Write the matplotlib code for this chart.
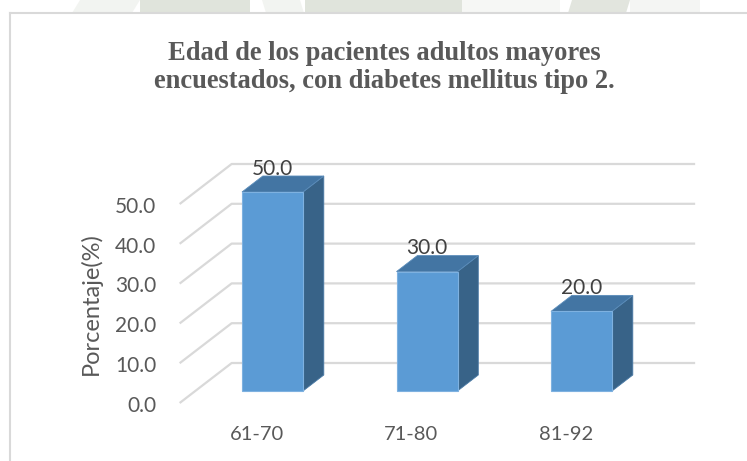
import matplotlib
matplotlib.use("Agg")
import matplotlib.pyplot as plt
from matplotlib.patches import Polygon
from matplotlib.lines import Line2D
from matplotlib.transforms import IdentityTransform

# ---- data ----
categories = ["61-70", "71-80", "81-92"]
values = [50.0, 30.0, 20.0]
y_ticks = [0, 10, 20, 30, 40, 50]
y_tick_labels = ["0.0", "10.0", "20.0", "30.0", "40.0", "50.0"]
title_lines = ["Edad de los pacientes adultos mayores",
               "encuestados, con diabetes mellitus tipo 2."]
y_label = "Porcentaje(%)"

W, H, DPI = 747, 461, 100
fig = plt.figure(figsize=(W / DPI, H / DPI), dpi=DPI)
fig.patch.set_facecolor("white")

# faint watermark strip above the chart frame (display pixels, y up)
wm = IdentityTransform()
def band(x0, x1, top_slant, col, alpha):
    pts = [(x0, H), (x1, H), (x1 + top_slant, H - 13), (x0 + top_slant, H - 13)]
    fig.add_artist(Polygon(pts, closed=True, transform=wm, facecolor=col,
                           edgecolor="none", alpha=alpha, zorder=0))
band(80, 140, -8, "#d7dcd2", 0.3)
band(140, 250, 0, "#d6dbd1", 0.75)
band(262, 300, 4, "#d6dbd1", 0.3)
band(305, 462, 0, "#d6dbd1", 0.75)
band(462, 560, 0, "#e4e7e1", 0.3)
band(572, 630, -4, "#d6dbd1", 0.7)
band(630, 700, 0, "#e2e5df", 0.35)

# chart frame
fig.add_artist(Line2D([10, W], [H - 13, H - 13], transform=wm,
                      color="#d9d9d9", lw=1.5, zorder=1))
fig.add_artist(Line2D([10, 10], [0, H - 13], transform=wm,
                      color="#d9d9d9", lw=1.5, zorder=1))
fig.add_artist(Polygon([(10.5, 0), (W, 0), (W, H - 13.5), (10.5, H - 13.5)],
                       closed=True, transform=wm, facecolor="white",
                       edgecolor="none", zorder=0.5))

ax = fig.add_axes([0, 0, 1, 1])
ax.set_axis_off()
ax.patch.set_alpha(0)
ax.set_zorder(2)

# axis scaling: category spacing and value scale in pixels
cat_px = 154.5
val_px = 3.98
front_c0_px = 256.9
front_v0_py = 403.0
ax.set_xlim(-front_c0_px / cat_px, (W - front_c0_px) / cat_px)
ax.set_ylim((front_v0_py - H) / val_px, front_v0_py / val_px)

# oblique depth offset
DX = 52.0 / cat_px
DY = 40.0 / val_px

def proj(c, v, t):
    return (c + DX * t, v + DY * t)

grid_col = "#d9d9d9"
c_left, c_right = -0.5, len(categories) - 0.5
for v in y_ticks:
    p0 = proj(c_left, v, 0)
    p1 = proj(c_left, v, 1)
    p2 = proj(c_right, v, 1)
    ax.plot([p0[0], p1[0], p2[0]], [p0[1], p1[1], p2[1]],
            color=grid_col, lw=1.6, solid_capstyle="butt", zorder=1)

sans = ["Lato", "DejaVu Sans"]
fs = 15
for v, lab in zip(y_ticks, y_tick_labels):
    ax.annotate(lab, xy=(c_left, v), xytext=(-17, -2), textcoords="offset points",
                ha="right", va="center", fontsize=fs, color="#595959", family=sans)

# 3D bars
front_col = "#5b9bd5"
top_col = "#4375a3"
side_col = "#386388"
bw = 61.0 / cat_px
t0, t1 = 0.3, 0.7
for i, (cat, v) in enumerate(zip(categories, values)):
    x0, x1 = i - bw / 2, i + bw / 2
    front = [proj(x0, 0, t0), proj(x1, 0, t0), proj(x1, v, t0), proj(x0, v, t0)]
    top = [proj(x0, v, t0), proj(x1, v, t0), proj(x1, v, t1), proj(x0, v, t1)]
    side = [proj(x1, 0, t0), proj(x1, 0, t1), proj(x1, v, t1), proj(x1, v, t0)]
    ax.add_patch(Polygon(side, closed=True, facecolor=side_col,
                         edgecolor="#4a7aa6", lw=0.6, zorder=3))
    ax.add_patch(Polygon(top, closed=True, facecolor=top_col,
                         edgecolor="#5a8cba", lw=0.6, zorder=3))
    ax.add_patch(Polygon(front, closed=True, facecolor=front_col,
                         edgecolor="#7eb1e0", lw=0.8, zorder=4))
    lx, ly = proj(i, v, t0)[0], proj(i, v, t1)[1]
    ax.annotate(f"{v:.1f}", xy=(lx, ly), xytext=(0, 0.8), textcoords="offset points",
                ha="center", va="baseline", fontsize=fs, color="#404040",
                family=sans, zorder=5)
    ax.text(i, -8.0, cat, ha="center", va="center", fontsize=14.5,
            color="#595959", family=sans)

ax.text(-1.074, 24.9, y_label, rotation=90, ha="center", va="center",
        fontsize=17, color="#595959", family=sans)

# two-line bold serif title, baselines placed in pixels from the top
for line, base_py in zip(title_lines, [59.5, 88.0]):
    fig.text(384 / W, 1 - base_py / H, line, ha="center", va="baseline",
             fontsize=19.1, fontweight="bold", color="#595959",
             family=["Liberation Serif", "DejaVu Serif"])

fig.savefig("out.png", dpi=DPI)
